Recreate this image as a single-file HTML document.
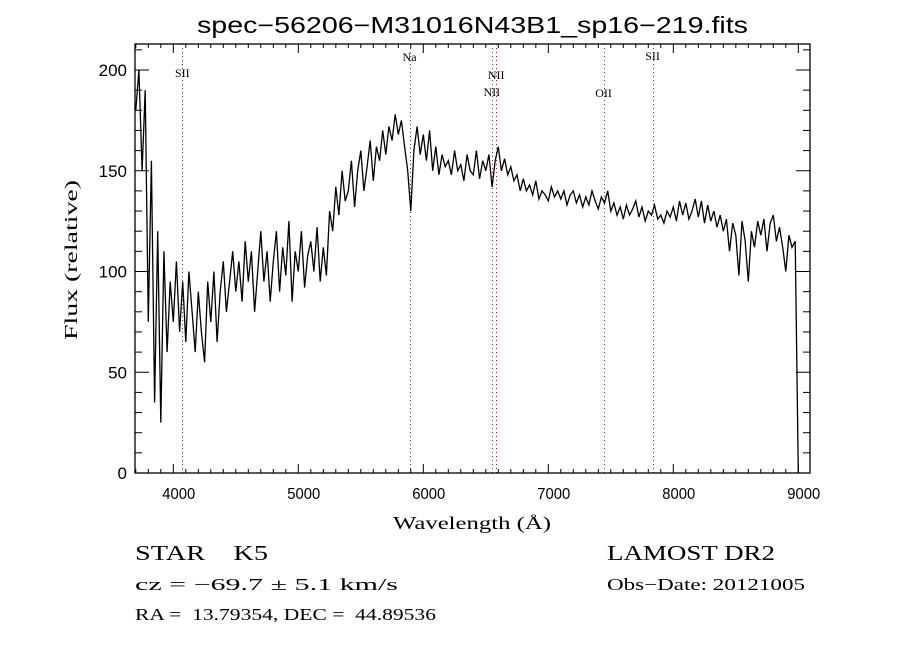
<!DOCTYPE html>
<html><head><meta charset="utf-8"><style>
html,body{margin:0;padding:0;background:#fff;}
svg{display:block;}
text{fill:#000;}
</style></head><body>
<svg id="chart" width="900" height="650" viewBox="0 0 900 650" xmlns="http://www.w3.org/2000/svg">
<rect width="900" height="650" fill="#fff"/>
<text x="197" y="33" textLength="551" lengthAdjust="spacingAndGlyphs" font-family="Liberation Sans, sans-serif" font-size="23">spec−56206−M31016N43B1_sp16−219.fits</text>
<g id="grid"></g>
<g id="axes"></g>
<path id="spec" fill="none" stroke="#000" stroke-width="1.3"/>
<rect x="135" y="44" width="675" height="429" fill="none" stroke="#000" stroke-width="1.3"/>
<text x="393" y="529" textLength="158" lengthAdjust="spacingAndGlyphs" font-family="Liberation Serif, serif" font-size="18">Wavelength (Å)</text>
<text transform="translate(77,340) rotate(-90)" textLength="160" lengthAdjust="spacingAndGlyphs" font-family="Liberation Serif, serif" font-size="18">Flux (relative)</text>
<text x="135" y="560" textLength="133" lengthAdjust="spacingAndGlyphs" font-family="Liberation Serif, serif" font-size="21" xml:space="preserve">STAR    K5</text>
<text x="607" y="560" textLength="168" lengthAdjust="spacingAndGlyphs" font-family="Liberation Serif, serif" font-size="21">LAMOST DR2</text>
<text x="135" y="590" textLength="263" lengthAdjust="spacingAndGlyphs" font-family="Liberation Serif, serif" font-size="17">cz = −69.7 ± 5.1 km/s</text>
<text x="607" y="590" textLength="198" lengthAdjust="spacingAndGlyphs" font-family="Liberation Serif, serif" font-size="17">Obs−Date: 20121005</text>
<text x="135" y="620" textLength="301" lengthAdjust="spacingAndGlyphs" font-family="Liberation Serif, serif" font-size="17" xml:space="preserve">RA =  13.79354, DEC =  44.89536</text>
</svg>
<script>
const wlStart = 3700;
const wlStep = 25;
const flux = [
180,200,150,190, 75,155,35,120, 25,110,60,95, 75,105,70,95,
65,100,80,60, 90,70,55,95, 75,100,65,90, 105,80,95,110,
90,105,85,115, 95,110,80,100, 120,95,110,85, 105,120,90,112,
98,125,85,110, 100,120,92,108, 115,100,122,95, 112,98,130,120,
142,128,150,135, 140,155,132,150, 160,140,152,165, 145,162,155,170,
158,172,165,178, 168,175,162,150, 130,160,172,158, 168,155,170,150,
162,148,158,152, 155,148,160,150, 153,145,158,150, 148,160,146,155,
150,158,142,155, 162,150,156,148, 152,145,148,140, 146,140,143,138,
145,136,140,138, 135,142,137,140, 136,140,133,138, 140,134,138,132,
137,133,140,135, 131,137,134,140, 130,134,128,132, 126,133,128,131,
135,127,132,125, 130,128,133,126, 128,124,130,127, 132,125,135,128,
134,126,130,136, 127,135,124,133, 125,130,122,128, 120,126,110,124,
118,98,125,115, 95,120,112,125, 118,126,110,124, 128,115,122,112,
100,118,112,115, 0
];
const xTicks = [4000,5000,6000,7000,8000,9000];
const yTicks = [0,50,100,150,200];
const lineNames = ["SII","Na","NII","NII","OII","SII"];
const lineWl = [4072,5890,6583,6548,7442,7834];
const lineLabelY = [77,61,79,96,97,60];

const NS = "http://www.w3.org/2000/svg";
const L=135,R=810,T=44,B=473;
const X = w => 173.3 + (w-4000)*0.125;
const Y = v => B - v*2.015;
const axes = document.getElementById('axes');
const grid = document.getElementById('grid');
function mk(tag, attrs, parent){const e=document.createElementNS(NS,tag);for(const k in attrs)e.setAttribute(k,attrs[k]);parent.appendChild(e);return e;}

for(let w=3700; w<=9090; w+=100){
  const x=X(w); const major = w%1000===0; const len = major?9:4;
  const t1=mk('line',{x1:x,x2:x,y1:B,y2:B-len,stroke:'#000','stroke-width':1},axes);
  
  
  const t2=mk('line',{x1:x,x2:x,y1:T,y2:T+len,stroke:'#000','stroke-width':1},axes);
  
  
}
xTicks.forEach(w=>{
  const t=mk('text',{x:X(w)-11,y:B+26,textLength:33,lengthAdjust:'spacingAndGlyphs','font-family':'Liberation Sans, sans-serif','font-size':16},axes);
  t.textContent=w;
  
  
});
for(let v=0; v<=210; v+=10){
  const y=Y(v); const major=v%50===0; const len=major?14:7;
  const t1=mk('line',{x1:L,x2:L+len,y1:y,y2:y,stroke:'#000','stroke-width':1},axes);
  
  
  const t2=mk('line',{x1:R,x2:R-len,y1:y,y2:y,stroke:'#000','stroke-width':1},axes);
  
  
}
yTicks.forEach(v=>{
  const t=mk('text',{x:127,y:Y(v)+6,'text-anchor':'end','font-family':'Liberation Sans, sans-serif','font-size':17},axes);
  t.textContent=v;
  
  
});
lineWl.forEach((w,i)=>{
  const x=Math.round(X(w))+0.5;
  const l=mk('line',{x1:x,x2:x,y1:T,y2:B,stroke:'#8b2020','stroke-width':1,'stroke-dasharray':'1,3'},grid);
  
  
  const t=mk('text',{x:X(w),y:lineLabelY[i],'text-anchor':'middle','font-family':'Liberation Serif, serif','font-size':12},grid);
  t.textContent=lineNames[i];
  
  
});
let d='';
flux.forEach((v,i)=>{const x=X(wlStart+i*wlStep);d+=(i?'L':'M')+x.toFixed(1)+','+Y(v).toFixed(1);});
document.getElementById('spec').setAttribute('d',d);
</script>
</body></html>
